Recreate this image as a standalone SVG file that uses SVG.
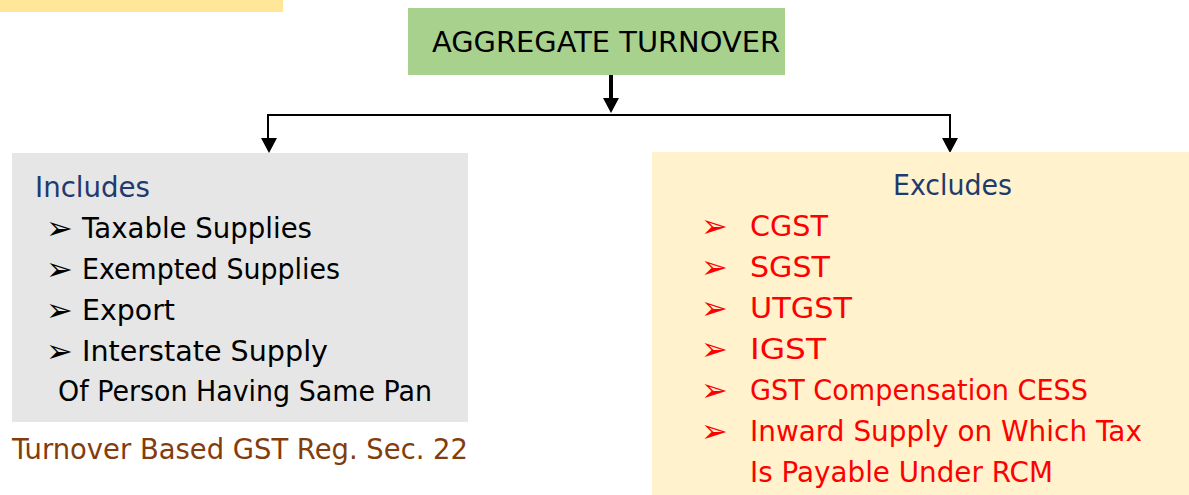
<svg xmlns="http://www.w3.org/2000/svg" width="1189" height="495" viewBox="0 0 1189 495">
<style>
text{font-family:"DejaVu Sans","Liberation Sans",sans-serif;font-size:29px}
.blk{fill:#000}
.navy{fill:#1F3A6E}
.red{fill:#FF0000}
.brown{fill:#843C0C}
.bul{font-family:"DejaVu Sans",sans-serif;font-size:32px}
.conn{stroke:#000;fill:none}
</style>
<rect width="1189" height="495" fill="#fff"/>
<rect id="topbar" x="0" y="0" width="283" height="12" fill="#FFE699"/>
<g id="connectors">
<line class="conn" x1="611" y1="75" x2="611" y2="100" stroke-width="4"/>
<path d="M603,98 L619,98 L611,113 Z" fill="#000"/>
<polyline class="conn" points="268,139 268,115 950,115 950,139" stroke-width="2"/>
<path d="M261,138 L277,138 L269,153 Z" fill="#000"/>
<path d="M942,138 L958,138 L950,153 Z" fill="#000"/>
</g>
<g id="aggregate">
<rect x="408" y="8" width="377" height="67" fill="#A9D18E"/>
<text x="432" y="52" class="blk" style="font-size:28px" textLength="348" lengthAdjust="spacingAndGlyphs">AGGREGATE TURNOVER</text>
</g>
<g id="includes">
<rect x="12" y="153" width="456" height="269" fill="#E6E6E6"/>
<text x="35" y="197" class="navy" textLength="115" lengthAdjust="spacingAndGlyphs">Includes</text>
<text x="46" y="239" class="blk bul">➢</text>
<text x="82" y="238" class="blk" textLength="230" lengthAdjust="spacingAndGlyphs">Taxable Supplies</text>
<text x="46" y="280" class="blk bul">➢</text>
<text x="82" y="279" class="blk" textLength="258" lengthAdjust="spacingAndGlyphs">Exempted Supplies</text>
<text x="46" y="321" class="blk bul">➢</text>
<text x="82" y="320" class="blk" textLength="93" lengthAdjust="spacingAndGlyphs">Export</text>
<text x="46" y="362" class="blk bul">➢</text>
<text x="82" y="361" class="blk" textLength="246" lengthAdjust="spacingAndGlyphs">Interstate Supply</text>
<text x="58" y="401" class="blk" textLength="374" lengthAdjust="spacingAndGlyphs">Of Person Having Same Pan</text>
</g>
<g id="note">
<text x="12" y="459" class="brown" textLength="456" lengthAdjust="spacingAndGlyphs">Turnover Based GST Reg. Sec. 22</text>
</g>
<g id="excludes">
<rect x="652" y="152" width="537" height="343" fill="#FFF2CC"/>
<text x="893" y="195" class="navy" textLength="119" lengthAdjust="spacingAndGlyphs">Excludes</text>
<text x="701" y="237" class="red bul">➢</text>
<text x="750" y="236" class="red" textLength="78" lengthAdjust="spacingAndGlyphs">CGST</text>
<text x="701" y="278" class="red bul">➢</text>
<text x="750" y="277" class="red" textLength="80" lengthAdjust="spacingAndGlyphs">SGST</text>
<text x="701" y="319" class="red bul">➢</text>
<text x="750" y="318" class="red" textLength="102" lengthAdjust="spacingAndGlyphs">UTGST</text>
<text x="701" y="360" class="red bul">➢</text>
<text x="750" y="359" class="red" textLength="76" lengthAdjust="spacingAndGlyphs">IGST</text>
<text x="701" y="401" class="red bul">➢</text>
<text x="750" y="400" class="red" textLength="338" lengthAdjust="spacingAndGlyphs">GST Compensation CESS</text>
<text x="701" y="442" class="red bul">➢</text>
<text x="750" y="441" class="red" textLength="392" lengthAdjust="spacingAndGlyphs">Inward Supply on Which Tax</text>
<text x="750" y="482" class="red" textLength="303" lengthAdjust="spacingAndGlyphs">Is Payable Under RCM</text>
</g>
</svg>
